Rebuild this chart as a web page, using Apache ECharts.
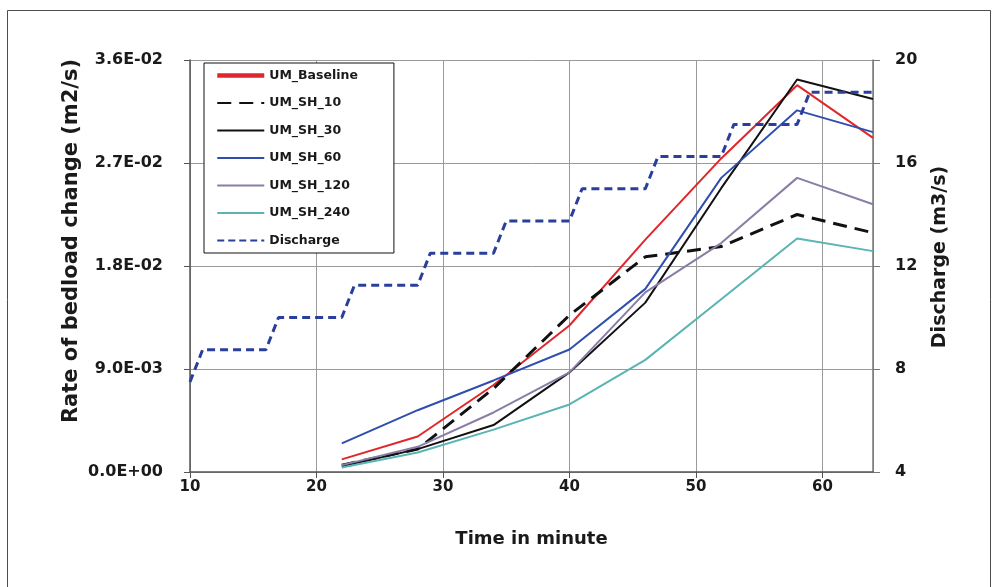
<!DOCTYPE html>
<html>
<head>
<meta charset="utf-8">
<script src="https://cdn.jsdelivr.net/npm/echarts@6/dist/echarts.min.js"></script>
<style>
  html, body { margin: 0; padding: 0; background: #ffffff; }
  #chart { width: 998px; height: 587px; }
</style>
</head>
<body>
<div id="chart"></div>
<script>
// Sampling times (minutes) of the bedload measurements
const minutes = [22, 28, 34, 40, 46, 52, 58, 64];

// Rate of bedload change (m2/s) for each run
const umBaseline = [0.0011, 0.0031, 0.0076, 0.0128, 0.0203, 0.0274, 0.0338, 0.0292];
const umSH10     = [0.0006, 0.0020, 0.0073, 0.0137, 0.0188, 0.0197, 0.0225, 0.0209];
const umSH30     = [0.0005, 0.0020, 0.0041, 0.0087, 0.0148, 0.0248, 0.0343, 0.0326];
const umSH60     = [0.0025, 0.0054, 0.0080, 0.0107, 0.0160, 0.0257, 0.0316, 0.0297];
const umSH120    = [0.0006, 0.0022, 0.0052, 0.0087, 0.0157, 0.0200, 0.0257, 0.0234];
const umSH240    = [0.0004, 0.0017, 0.0037, 0.0059, 0.0098, 0.0151, 0.0204, 0.0193];

// Stepped inflow hydrograph (m3/s)
const dischargeTime = [10, 11, 16, 17, 22, 23, 28, 29, 34, 35, 40, 41, 46, 47, 52, 53, 58, 59, 64];
const dischargeFlow = [7.5, 8.75, 8.75, 10, 10, 11.25, 11.25, 12.5, 12.5, 13.75, 13.75, 15, 15, 16.25, 16.25, 17.5, 17.5, 18.75, 18.75];

const FONT = 'DejaVu Sans';
const TXT = '#1a1a1a';

function pairs(xs, ys) {
  return xs.map((x, i) => [x, ys[i]]);
}

// 3.6E-02 style labels
function sci(v) {
  if (Math.abs(v) < 1e-12) return '0.0E+00';
  const parts = v.toExponential(1).split('e');
  const n = parseInt(parts[1], 10);
  return parts[0] + 'E' + (n < 0 ? '-' : '+') + String(Math.abs(n)).padStart(2, '0');
}

function lineSeries(name, data, color, width, type, yAxisIndex) {
  return {
    name: name,
    type: 'line',
    data: data,
    yAxisIndex: yAxisIndex || 0,
    symbol: 'none',
    showSymbol: false,
    smooth: false,
    lineStyle: { color: color, width: width, type: type || 'solid', cap: 'butt' },
    itemStyle: { color: color },
    emphasis: { disabled: true },
    animation: false
  };
}

const chart = echarts.init(document.getElementById('chart'), null, { renderer: 'canvas' });

chart.setOption({
  backgroundColor: '#ffffff',
  animation: false,
  textStyle: { fontFamily: FONT },
  graphic: [{
    type: 'rect',
    shape: { x: 7.5, y: 10.5, width: 983, height: 590 },
    style: { fill: 'none', stroke: '#4d4d4d', lineWidth: 1 },
    silent: true
  }],
  grid: { left: 190, right: 125, top: 60, bottom: 115 },
  legend: {
    orient: 'vertical',
    left: 204,
    top: 63,
    itemWidth: 47,
    itemHeight: 14,
    itemGap: 14.5,
    padding: [6, 36, 6, 11],
    backgroundColor: '#ffffff',
    borderColor: '#111111',
    borderWidth: 1,
    borderRadius: 0,
    z: 10,
    itemStyle: { opacity: 0 },
    textStyle: { fontFamily: FONT, fontWeight: 'bold', fontSize: 12.5, color: TXT },
    data: [
      { name: 'UM_Baseline', lineStyle: { width: 4.5 } },
      { name: 'UM_SH_10' },
      { name: 'UM_SH_30' },
      { name: 'UM_SH_60' },
      { name: 'UM_SH_120' },
      { name: 'UM_SH_240' },
      { name: 'Discharge', lineStyle: { type: [7, 4] } }
    ]
  },
  xAxis: {
    type: 'value',
    min: 10,
    max: 64,
    interval: 10,
    name: 'Time in minute',
    nameLocation: 'middle',
    nameGap: 58,
    nameTextStyle: { fontFamily: FONT, fontWeight: 'bold', fontSize: 18, color: TXT },
    axisLine: { show: true, onZero: false, lineStyle: { color: '#555555', width: 1.5 } },
    axisTick: { show: true, length: 6, lineStyle: { color: '#555555' } },
    axisLabel: { margin: 8, showMaxLabel: false, fontFamily: FONT, fontWeight: 'bold', fontSize: 15, color: TXT },
    splitLine: { show: true, lineStyle: { color: '#9a9a9a', width: 1 } }
  },
  yAxis: [{
    type: 'value',
    min: 0,
    max: 0.036,
    interval: 0.009,
    position: 'left',
    name: 'Rate of bedload change (m2/s)',
    nameLocation: 'middle',
    nameGap: 108,
    nameMoveOverlap: false,
    nameTextStyle: { fontFamily: FONT, fontWeight: 'bold', fontSize: 21, color: TXT, padding: [0, 0, 0, 50] },
    axisLine: { show: true, lineStyle: { color: '#555555', width: 1.5 } },
    axisTick: { show: true, length: 6, lineStyle: { color: '#555555' } },
    axisLabel: { margin: 27, formatter: sci, fontFamily: FONT, fontWeight: 'bold', fontSize: 16, color: TXT },
    splitLine: { show: true, lineStyle: { color: '#9a9a9a', width: 1 } }
  }, {
    type: 'value',
    min: 4,
    max: 20,
    interval: 4,
    position: 'right',
    name: 'Discharge (m3/s)',
    nameLocation: 'middle',
    nameGap: 58,
    nameRotate: 90,
    nameTextStyle: { fontFamily: FONT, fontWeight: 'bold', fontSize: 19, color: TXT, padding: [0, 0, 0, 18] },
    axisLine: { show: true, lineStyle: { color: '#777777', width: 1.5 } },
    axisTick: { show: true, length: 7, lineStyle: { color: '#777777' } },
    axisLabel: { margin: 22, fontFamily: FONT, fontWeight: 'bold', fontSize: 16, color: TXT },
    splitLine: { show: false }
  }],
  series: [
    lineSeries('UM_Baseline', pairs(minutes, umBaseline), '#e0262a', 2),
    lineSeries('UM_SH_10', pairs(minutes, umSH10), '#111111', 3, [14, 8]),
    lineSeries('UM_SH_30', pairs(minutes, umSH30), '#111111', 2),
    lineSeries('UM_SH_60', pairs(minutes, umSH60), '#2f4fae', 2),
    lineSeries('UM_SH_120', pairs(minutes, umSH120), '#8a7da6', 2),
    lineSeries('UM_SH_240', pairs(minutes, umSH240), '#5ab4b4', 2),
    lineSeries('Discharge', pairs(dischargeTime, dischargeFlow), '#2a3f9c', 3, [8, 5], 1)
  ]
});
</script>
</body>
</html>
